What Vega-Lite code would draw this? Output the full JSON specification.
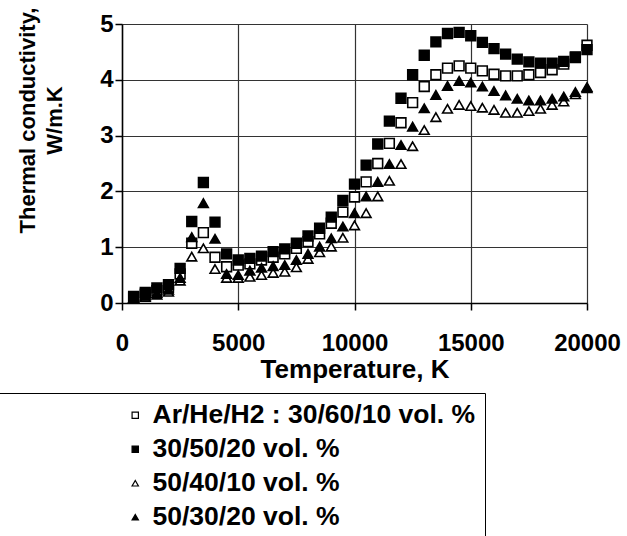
{
  "$schema": "https://vega.github.io/schema/vega-lite/v6.json",
  "width": 465,
  "height": 279,
  "autosize": {"type": "none"},
  "padding": {"left": 122, "top": 24, "right": 40, "bottom": 233},
  "background": "white",
  "config": {
    "view": {"stroke": null},
    "font": "Liberation Sans",
    "axis": {
      "labelFont": "Liberation Sans", "labelFontWeight": "bold", "labelColor": "black",
      "titleFont": "Liberation Sans", "titleFontWeight": "bold", "titleColor": "black",
      "domainColor": "black", "domainWidth": 1.5, "tickColor": "black", "tickWidth": 1.5,
      "gridColor": "#333333", "gridWidth": 1.2, "gridOpacity": 1
    },
    "legend": {
      "labelFont": "Liberation Sans", "labelFontWeight": "bold", "labelColor": "black",
      "labelFontSize": 26.5, "symbolSize": 40, "strokeColor": "black", "padding": 9,
      "rowPadding": 7, "symbolOffset": 116, "labelOffset": 4,
      "symbolStrokeWidth": 1.2, "labelLimit": 600
    }
  },
  "data": {"values": [
    {"T":500,"series":"Ar/He/H2 : 30/60/10 vol. %","k":0.10},
    {"T":1000,"series":"Ar/He/H2 : 30/60/10 vol. %","k":0.16},
    {"T":1500,"series":"Ar/He/H2 : 30/60/10 vol. %","k":0.22},
    {"T":2000,"series":"Ar/He/H2 : 30/60/10 vol. %","k":0.28},
    {"T":2500,"series":"Ar/He/H2 : 30/60/10 vol. %","k":0.52},
    {"T":3000,"series":"Ar/He/H2 : 30/60/10 vol. %","k":1.07},
    {"T":3500,"series":"Ar/He/H2 : 30/60/10 vol. %","k":1.26},
    {"T":4000,"series":"Ar/He/H2 : 30/60/10 vol. %","k":0.82},
    {"T":4500,"series":"Ar/He/H2 : 30/60/10 vol. %","k":0.65},
    {"T":5000,"series":"Ar/He/H2 : 30/60/10 vol. %","k":0.68},
    {"T":5500,"series":"Ar/He/H2 : 30/60/10 vol. %","k":0.70},
    {"T":6000,"series":"Ar/He/H2 : 30/60/10 vol. %","k":0.77},
    {"T":6500,"series":"Ar/He/H2 : 30/60/10 vol. %","k":0.82},
    {"T":7000,"series":"Ar/He/H2 : 30/60/10 vol. %","k":0.88},
    {"T":7500,"series":"Ar/He/H2 : 30/60/10 vol. %","k":0.98},
    {"T":8000,"series":"Ar/He/H2 : 30/60/10 vol. %","k":1.10},
    {"T":8500,"series":"Ar/He/H2 : 30/60/10 vol. %","k":1.24},
    {"T":9000,"series":"Ar/He/H2 : 30/60/10 vol. %","k":1.43},
    {"T":9500,"series":"Ar/He/H2 : 30/60/10 vol. %","k":1.63},
    {"T":10000,"series":"Ar/He/H2 : 30/60/10 vol. %","k":1.90},
    {"T":10500,"series":"Ar/He/H2 : 30/60/10 vol. %","k":2.17},
    {"T":11000,"series":"Ar/He/H2 : 30/60/10 vol. %","k":2.50},
    {"T":11500,"series":"Ar/He/H2 : 30/60/10 vol. %","k":2.86},
    {"T":12000,"series":"Ar/He/H2 : 30/60/10 vol. %","k":3.23},
    {"T":12500,"series":"Ar/He/H2 : 30/60/10 vol. %","k":3.59},
    {"T":13000,"series":"Ar/He/H2 : 30/60/10 vol. %","k":3.88},
    {"T":13500,"series":"Ar/He/H2 : 30/60/10 vol. %","k":4.09},
    {"T":14000,"series":"Ar/He/H2 : 30/60/10 vol. %","k":4.21},
    {"T":14500,"series":"Ar/He/H2 : 30/60/10 vol. %","k":4.25},
    {"T":15000,"series":"Ar/He/H2 : 30/60/10 vol. %","k":4.21},
    {"T":15500,"series":"Ar/He/H2 : 30/60/10 vol. %","k":4.16},
    {"T":16000,"series":"Ar/He/H2 : 30/60/10 vol. %","k":4.10},
    {"T":16500,"series":"Ar/He/H2 : 30/60/10 vol. %","k":4.07},
    {"T":17000,"series":"Ar/He/H2 : 30/60/10 vol. %","k":4.07},
    {"T":17500,"series":"Ar/He/H2 : 30/60/10 vol. %","k":4.09},
    {"T":18000,"series":"Ar/He/H2 : 30/60/10 vol. %","k":4.13},
    {"T":18500,"series":"Ar/He/H2 : 30/60/10 vol. %","k":4.18},
    {"T":19000,"series":"Ar/He/H2 : 30/60/10 vol. %","k":4.28},
    {"T":19500,"series":"Ar/He/H2 : 30/60/10 vol. %","k":4.40},
    {"T":20000,"series":"Ar/He/H2 : 30/60/10 vol. %","k":4.62},
    {"T":500,"series":"30/50/20 vol. %","k":0.12},
    {"T":1000,"series":"30/50/20 vol. %","k":0.19},
    {"T":1500,"series":"30/50/20 vol. %","k":0.27},
    {"T":2000,"series":"30/50/20 vol. %","k":0.33},
    {"T":2500,"series":"30/50/20 vol. %","k":0.62},
    {"T":3000,"series":"30/50/20 vol. %","k":1.46},
    {"T":3500,"series":"30/50/20 vol. %","k":2.16},
    {"T":4000,"series":"30/50/20 vol. %","k":1.45},
    {"T":4500,"series":"30/50/20 vol. %","k":0.88},
    {"T":5000,"series":"30/50/20 vol. %","k":0.77},
    {"T":5500,"series":"30/50/20 vol. %","k":0.80},
    {"T":6000,"series":"30/50/20 vol. %","k":0.84},
    {"T":6500,"series":"30/50/20 vol. %","k":0.92},
    {"T":7000,"series":"30/50/20 vol. %","k":0.97},
    {"T":7500,"series":"30/50/20 vol. %","k":1.07},
    {"T":8000,"series":"30/50/20 vol. %","k":1.20},
    {"T":8500,"series":"30/50/20 vol. %","k":1.34},
    {"T":9000,"series":"30/50/20 vol. %","k":1.54},
    {"T":9500,"series":"30/50/20 vol. %","k":1.84},
    {"T":10000,"series":"30/50/20 vol. %","k":2.13},
    {"T":10500,"series":"30/50/20 vol. %","k":2.47},
    {"T":11000,"series":"30/50/20 vol. %","k":2.85},
    {"T":11500,"series":"30/50/20 vol. %","k":3.26},
    {"T":12000,"series":"30/50/20 vol. %","k":3.67},
    {"T":12500,"series":"30/50/20 vol. %","k":4.09},
    {"T":13000,"series":"30/50/20 vol. %","k":4.44},
    {"T":13500,"series":"30/50/20 vol. %","k":4.68},
    {"T":14000,"series":"30/50/20 vol. %","k":4.83},
    {"T":14500,"series":"30/50/20 vol. %","k":4.85},
    {"T":15000,"series":"30/50/20 vol. %","k":4.79},
    {"T":15500,"series":"30/50/20 vol. %","k":4.67},
    {"T":16000,"series":"30/50/20 vol. %","k":4.56},
    {"T":16500,"series":"30/50/20 vol. %","k":4.46},
    {"T":17000,"series":"30/50/20 vol. %","k":4.37},
    {"T":17500,"series":"30/50/20 vol. %","k":4.32},
    {"T":18000,"series":"30/50/20 vol. %","k":4.30},
    {"T":18500,"series":"30/50/20 vol. %","k":4.30},
    {"T":19000,"series":"30/50/20 vol. %","k":4.33},
    {"T":19500,"series":"30/50/20 vol. %","k":4.41},
    {"T":20000,"series":"30/50/20 vol. %","k":4.54},
    {"T":500,"series":"50/40/10 vol. %","k":0.08},
    {"T":1000,"series":"50/40/10 vol. %","k":0.11},
    {"T":1500,"series":"50/40/10 vol. %","k":0.15},
    {"T":2000,"series":"50/40/10 vol. %","k":0.20},
    {"T":2500,"series":"50/40/10 vol. %","k":0.40},
    {"T":3000,"series":"50/40/10 vol. %","k":0.83},
    {"T":3500,"series":"50/40/10 vol. %","k":0.98},
    {"T":4000,"series":"50/40/10 vol. %","k":0.61},
    {"T":4500,"series":"50/40/10 vol. %","k":0.45},
    {"T":5000,"series":"50/40/10 vol. %","k":0.45},
    {"T":5500,"series":"50/40/10 vol. %","k":0.47},
    {"T":6000,"series":"50/40/10 vol. %","k":0.50},
    {"T":6500,"series":"50/40/10 vol. %","k":0.54},
    {"T":7000,"series":"50/40/10 vol. %","k":0.56},
    {"T":7500,"series":"50/40/10 vol. %","k":0.64},
    {"T":8000,"series":"50/40/10 vol. %","k":0.79},
    {"T":8500,"series":"50/40/10 vol. %","k":0.91},
    {"T":9000,"series":"50/40/10 vol. %","k":1.01},
    {"T":9500,"series":"50/40/10 vol. %","k":1.17},
    {"T":10000,"series":"50/40/10 vol. %","k":1.39},
    {"T":10500,"series":"50/40/10 vol. %","k":1.61},
    {"T":11000,"series":"50/40/10 vol. %","k":1.91},
    {"T":11500,"series":"50/40/10 vol. %","k":2.19},
    {"T":12000,"series":"50/40/10 vol. %","k":2.49},
    {"T":12500,"series":"50/40/10 vol. %","k":2.81},
    {"T":13000,"series":"50/40/10 vol. %","k":3.10},
    {"T":13500,"series":"50/40/10 vol. %","k":3.33},
    {"T":14000,"series":"50/40/10 vol. %","k":3.48},
    {"T":14500,"series":"50/40/10 vol. %","k":3.55},
    {"T":15000,"series":"50/40/10 vol. %","k":3.53},
    {"T":15500,"series":"50/40/10 vol. %","k":3.50},
    {"T":16000,"series":"50/40/10 vol. %","k":3.46},
    {"T":16500,"series":"50/40/10 vol. %","k":3.41},
    {"T":17000,"series":"50/40/10 vol. %","k":3.41},
    {"T":17500,"series":"50/40/10 vol. %","k":3.44},
    {"T":18000,"series":"50/40/10 vol. %","k":3.48},
    {"T":18500,"series":"50/40/10 vol. %","k":3.55},
    {"T":19000,"series":"50/40/10 vol. %","k":3.61},
    {"T":19500,"series":"50/40/10 vol. %","k":3.74},
    {"T":20000,"series":"50/40/10 vol. %","k":3.85},
    {"T":500,"series":"50/30/20 vol. %","k":0.09},
    {"T":1000,"series":"50/30/20 vol. %","k":0.13},
    {"T":1500,"series":"50/30/20 vol. %","k":0.18},
    {"T":2000,"series":"50/30/20 vol. %","k":0.24},
    {"T":2500,"series":"50/30/20 vol. %","k":0.45},
    {"T":3000,"series":"50/30/20 vol. %","k":1.18},
    {"T":3500,"series":"50/30/20 vol. %","k":1.79},
    {"T":4000,"series":"50/30/20 vol. %","k":1.15},
    {"T":4500,"series":"50/30/20 vol. %","k":0.52},
    {"T":5000,"series":"50/30/20 vol. %","k":0.50},
    {"T":5500,"series":"50/30/20 vol. %","k":0.58},
    {"T":6000,"series":"50/30/20 vol. %","k":0.63},
    {"T":6500,"series":"50/30/20 vol. %","k":0.66},
    {"T":7000,"series":"50/30/20 vol. %","k":0.68},
    {"T":7500,"series":"50/30/20 vol. %","k":0.77},
    {"T":8000,"series":"50/30/20 vol. %","k":0.88},
    {"T":8500,"series":"50/30/20 vol. %","k":1.01},
    {"T":9000,"series":"50/30/20 vol. %","k":1.16},
    {"T":9500,"series":"50/30/20 vol. %","k":1.37},
    {"T":10000,"series":"50/30/20 vol. %","k":1.61},
    {"T":10500,"series":"50/30/20 vol. %","k":1.91},
    {"T":11000,"series":"50/30/20 vol. %","k":2.17},
    {"T":11500,"series":"50/30/20 vol. %","k":2.49},
    {"T":12000,"series":"50/30/20 vol. %","k":2.83},
    {"T":12500,"series":"50/30/20 vol. %","k":3.16},
    {"T":13000,"series":"50/30/20 vol. %","k":3.49},
    {"T":13500,"series":"50/30/20 vol. %","k":3.73},
    {"T":14000,"series":"50/30/20 vol. %","k":3.89},
    {"T":14500,"series":"50/30/20 vol. %","k":3.98},
    {"T":15000,"series":"50/30/20 vol. %","k":3.95},
    {"T":15500,"series":"50/30/20 vol. %","k":3.88},
    {"T":16000,"series":"50/30/20 vol. %","k":3.80},
    {"T":16500,"series":"50/30/20 vol. %","k":3.72},
    {"T":17000,"series":"50/30/20 vol. %","k":3.66},
    {"T":17500,"series":"50/30/20 vol. %","k":3.63},
    {"T":18000,"series":"50/30/20 vol. %","k":3.63},
    {"T":18500,"series":"50/30/20 vol. %","k":3.66},
    {"T":19000,"series":"50/30/20 vol. %","k":3.70},
    {"T":19500,"series":"50/30/20 vol. %","k":3.78},
    {"T":20000,"series":"50/30/20 vol. %","k":3.87}
  ]},
  "mark": {"type": "point", "filled": true, "strokeWidth": 1.6, "opacity": 1, "size": 95, "clip": false},
  "encoding": {
    "x": {
      "field": "T", "type": "quantitative",
      "scale": {"domain": [0, 20000], "nice": false},
      "axis": {
        "values": [0, 5000, 10000, 15000, 20000], "format": "d", "grid": true,
        "labelFontSize": 24, "tickSize": 7, "labelPadding": 21, "labelOverlap": false, "labelFlush": false,
        "title": "Temperature, K", "titleFontSize": 26, "titlePadding": 1
      }
    },
    "y": {
      "field": "k", "type": "quantitative",
      "scale": {"domain": [0, 5], "nice": false},
      "axis": {
        "values": [0, 1, 2, 3, 4, 5], "grid": true,
        "labelFontSize": 24, "tickSize": 7, "labelPadding": 2,
        "title": ["Thermal conductivity,", "W/m.K"], "titleFontSize": 22, "titleLineHeight": 27,
        "titleX": -95, "titleY": 96, "titleAngle": -90, "titleAlign": "center", "titleBaseline": "middle"
      }
    },
    "fill": {
      "field": "series", "type": "nominal",
      "scale": {
        "domain": ["Ar/He/H2 : 30/60/10 vol. %", "30/50/20 vol. %", "50/40/10 vol. %", "50/30/20 vol. %"],
        "range": ["white", "black", "white", "black"]
      },
      "legend": {"title": null, "orient": "none", "legendX": -125, "legendY": 369}
    },
    "stroke": {
      "field": "series", "type": "nominal",
      "scale": {
        "domain": ["Ar/He/H2 : 30/60/10 vol. %", "30/50/20 vol. %", "50/40/10 vol. %", "50/30/20 vol. %"],
        "range": ["black", "black", "black", "black"]
      },
      "legend": {"title": null, "orient": "none", "legendX": -125, "legendY": 369}
    },
    "shape": {
      "field": "series", "type": "nominal",
      "scale": {
        "domain": ["Ar/He/H2 : 30/60/10 vol. %", "30/50/20 vol. %", "50/40/10 vol. %", "50/30/20 vol. %"],
        "range": ["square", "square", "triangle-up", "triangle-up"]
      },
      "legend": {"title": null, "orient": "none", "legendX": -125, "legendY": 369}
    }
  }
}
